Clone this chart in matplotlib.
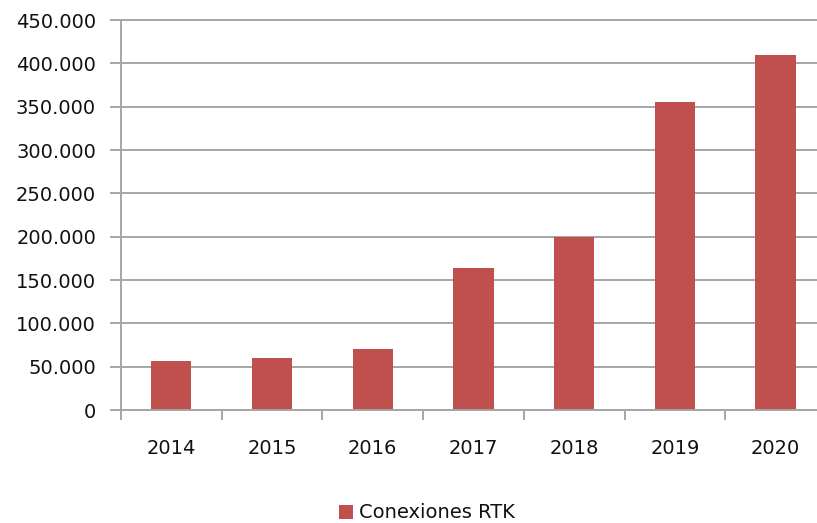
import matplotlib
matplotlib.use("Agg")
import matplotlib.pyplot as plt
from matplotlib.ticker import FuncFormatter, MultipleLocator, FixedLocator

years = ["2014", "2015", "2016", "2017", "2018", "2019", "2020"]
conexiones = [57000, 60000, 70000, 164000, 200000, 355000, 410000]
series_label = "Conexiones RTK"

bar_color = "#C0504D"
grid_color = "#A6A6A6"
text_color = "#111111"

fig = plt.figure(figsize=(8.17, 5.23), dpi=100)
ax = fig.add_axes([121 / 817, 1 - 410 / 523, 696 / 817, 390 / 523])

x = list(range(len(years)))
ax.bar(x, conexiones, width=0.4, color=bar_color, label=series_label, zorder=3)

ax.set_ylim(0, 450000)
ax.set_xlim(-0.5, -0.5 + 696 / 100.7)
ax.yaxis.set_major_locator(MultipleLocator(50000))
ax.yaxis.set_major_formatter(FuncFormatter(lambda v, p: f"{int(v):,}".replace(",", ".")))
ax.grid(axis="y", color=grid_color, linewidth=1.4, zorder=0, clip_on=False)

# category boundaries as ticks, labels on the centres
ax.xaxis.set_major_locator(FixedLocator([i - 0.5 for i in range(len(years) + 1)]))
ax.xaxis.set_major_formatter(FuncFormatter(lambda v, p: ""))
ax.set_xticks(x, minor=True)
ax.set_xticklabels(years, minor=True)
ax.tick_params(axis="x", which="major", length=7, width=1.4, color=grid_color, direction="out")
ax.tick_params(axis="x", which="minor", length=0, pad=21, labelsize=14, labelcolor=text_color)
ax.tick_params(axis="y", length=8, width=1.4, color=grid_color, pad=10, labelsize=14, labelcolor=text_color)

for side in ["top", "right"]:
    ax.spines[side].set_visible(False)
for side in ["left", "bottom"]:
    ax.spines[side].set_color(grid_color)
    ax.spines[side].set_linewidth(1.4)
    ax.spines[side].set_zorder(4)

fig.legend(loc="center", bbox_to_anchor=(427 / 817, 1 - 513 / 523), frameon=False,
           fontsize=14, handlelength=0.75, handleheight=0.75, handletextpad=0.3,
           labelcolor=text_color)

fig.savefig("out.png", dpi=100)
